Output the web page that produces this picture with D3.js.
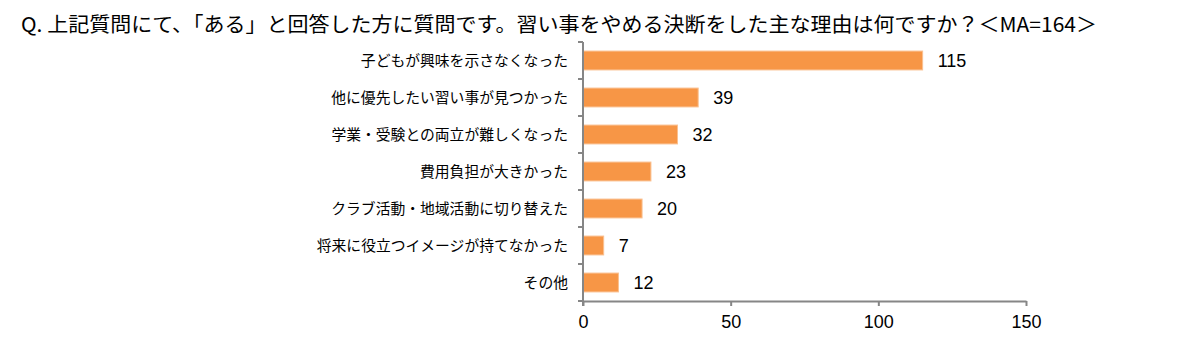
<!DOCTYPE html>
<html><head><meta charset="utf-8">
<script src="https://cdn.jsdelivr.net/npm/d3@7"></script>
<style>
body{margin:0;background:#fff;}
text{font-family:"Noto Sans CJK JP","Noto Sans",sans-serif;fill:#000;}
.num{font-family:"Liberation Sans",Arial,sans-serif;}
</style></head>
<body>
<svg id="c" width="1200" height="355"></svg>
<script>
const titleText = "Q. 上記質問にて、「ある」と回答した方に質問です。習い事をやめる決断をした主な理由は何ですか？＜MA=164＞";
const categories = ["子どもが興味を示さなくなった","他に優先したい習い事が見つかった","学業・受験との両立が難しくなった","費用負担が大きかった","クラブ活動・地域活動に切り替えた","将来に役立つイメージが持てなかった","その他"];
const values = [115,39,32,23,20,7,12];
const xTicks = [0,50,100,150];

const svg = d3.select("#c");
const x = d3.scaleLinear().domain([0,150]).range([583,1026]);
const y = d3.scaleBand().domain(categories).range([42,301]).paddingInner(0.49).paddingOuter(0.245);

svg.append("text").attr("x",21).attr("y",32).attr("font-size",20)
  .attr("textLength",1076).attr("lengthAdjust","spacingAndGlyphs").text(titleText);

svg.selectAll("rect.bar").data(values).join("rect").attr("class","bar")
  .attr("x",x(0)).attr("y",(d,i)=>y(categories[i]))
  .attr("width",d=>x(d)-x(0)).attr("height",y.bandwidth())
  .attr("fill","#F79646").attr("stroke","#FAC090").attr("stroke-width",1);

svg.selectAll("text.val").data(values).join("text").attr("class","val num")
  .attr("x",d=>x(d)+15).attr("y",(d,i)=>y(categories[i])+y.bandwidth()/2)
  .attr("dy","0.36em").attr("font-size",18).text(d=>d);

// y axis
const yBounds = d3.range(categories.length+1).map(i=>42+i*(259/categories.length));
svg.append("line").attr("x1",x(0)).attr("x2",x(0)).attr("y1",42).attr("y2",306)
  .attr("stroke","#868686").attr("stroke-width",2);
svg.selectAll("line.yt").data(yBounds).join("line").attr("class","yt")
  .attr("x1",x(0)-5).attr("x2",x(0)).attr("y1",d=>d).attr("y2",d=>d)
  .attr("stroke","#868686").attr("stroke-width",2);
svg.selectAll("text.cat").data(categories).join("text").attr("class","cat")
  .attr("x",568).attr("y",d=>y(d)+y.bandwidth()/2).attr("dy","0.35em")
  .attr("text-anchor","end").attr("font-size",14.8).text(d=>d);

// x axis
const xa = svg.append("g").attr("transform","translate(0,301)")
  .call(d3.axisBottom(x).tickValues(xTicks).tickSize(5).tickSizeOuter(0).tickPadding(9));
xa.select(".domain").attr("stroke","#868686").attr("stroke-width",2);
xa.selectAll(".tick line").attr("stroke","#868686").attr("stroke-width",2);
xa.selectAll(".tick text").attr("class","num").attr("font-size",18).attr("fill","#000")
  .style("font-family","'Liberation Sans',Arial,sans-serif");
</script>
</body></html>
